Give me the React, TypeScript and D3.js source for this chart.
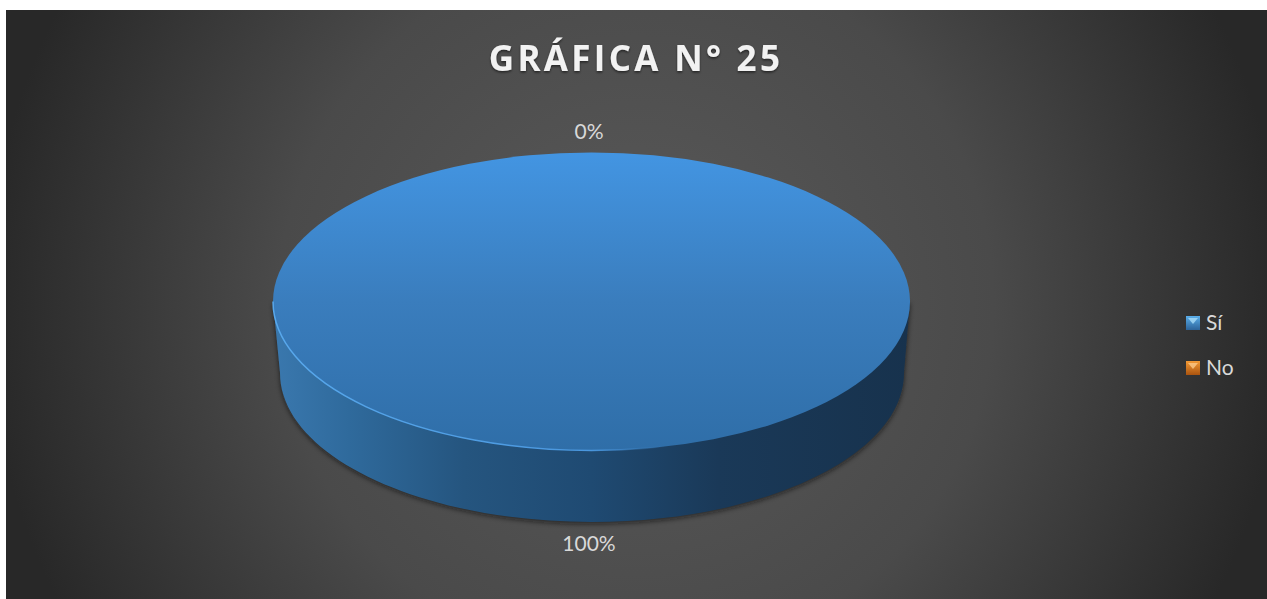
import React from "react";
import * as d3 from "d3";

const chartTitle = "GRÁFICA N° 25";
const categories = ["Sí", "No"];
const seriesValues = [100, 0];
const percentLabels = ["100%", "0%"];

const W = 1267, H = 599;
const cx = 591.5, cy = 301.5, rx = 318.5, ry = 149;
const bx = 592, by = 373, brx = 312, bry = 149;
const k = 0.5523;

export default function App() {
  const pie = d3.pie<number>().sort(null)(seriesValues);
  const arc = d3.arc<d3.PieArcDatum<number>>().innerRadius(0).outerRadius(rx);
  const topPath = arc(pie[0]) as string;
  const sidePath = d3.path();
  sidePath.moveTo(cx - rx, cy);
  sidePath.lineTo(bx - brx, by);
  sidePath.bezierCurveTo(bx - brx, by + bry * k, bx - brx * k, by + bry, bx, by + bry);
  sidePath.bezierCurveTo(bx + brx * k, by + bry, bx + brx, by + bry * k, bx + brx, by);
  sidePath.lineTo(cx + rx, cy);
  sidePath.closePath();

  const legendY = d3.scalePoint<string>().domain(categories).range([323, 368]);
  const legendFill = ["url(#lgBlue)", "url(#lgOrange)"];

  return (
    <svg width={W} height={H} style={{ position: "absolute", left: 0, top: 0, display: "block" }}>
      <defs>
        <radialGradient id="bg" gradientUnits="userSpaceOnUse" cx={636} cy={305} r={650}>
          <stop offset="0" stopColor="#5a5a5a" />
          <stop offset="0.55" stopColor="#4a4a4a" />
          <stop offset="1" stopColor="#282828" />
        </radialGradient>
        <linearGradient id="top" x1="0" y1="0" x2="0" y2="1">
          <stop offset="0" stopColor="#4395e2" />
          <stop offset="0.5" stopColor="#3a7dbd" />
          <stop offset="1" stopColor="#2f6ea8" />
        </linearGradient>
        <linearGradient id="rim" gradientUnits="userSpaceOnUse" x1={-319} y1={0} x2={319} y2={0}>
          <stop offset="0" stopColor="#58a8ec" />
          <stop offset="0.5" stopColor="#4a97de" />
          <stop offset="0.62" stopColor="#3a7dbd" stopOpacity="0" />
          <stop offset="1" stopColor="#3a7dbd" stopOpacity="0" />
        </linearGradient>
        <linearGradient id="side" x1="0" y1="0" x2="1" y2="0">
          <stop offset="0" stopColor="#3a78ae" />
          <stop offset="0.12" stopColor="#2f6a9c" />
          <stop offset="0.3" stopColor="#25557f" />
          <stop offset="0.5" stopColor="#1f4a72" />
          <stop offset="0.7" stopColor="#1a3958" />
          <stop offset="1" stopColor="#17324d" />
        </linearGradient>
        <linearGradient id="lgBlue" x1="0" y1="0" x2="0" y2="1">
          <stop offset="0" stopColor="#5aaeea" />
          <stop offset="1" stopColor="#2c6399" />
        </linearGradient>
        <linearGradient id="lgOrange" x1="0" y1="0" x2="0" y2="1">
          <stop offset="0" stopColor="#f39a35" />
          <stop offset="1" stopColor="#a9530f" />
        </linearGradient>
        <clipPath id="lowerHalf">
          <rect x={-330} y={0} width={660} height={340} />
        </clipPath>
        <filter id="blur" x="-10%" y="-10%" width="120%" height="120%">
          <feGaussianBlur stdDeviation="2.5" />
        </filter>
        <filter id="titleShadow" x="-10%" y="-30%" width="120%" height="160%">
          <feDropShadow dx="0" dy="1.5" stdDeviation="1.2" floodColor="#000" floodOpacity="0.55" />
        </filter>
      </defs>
      <rect x={0} y={0} width={W} height={H} fill="#ffffff" />
      <rect x={6} y={10} width={W - 6} height={H - 10} fill="url(#bg)" />

      <text x={636} y={71} textAnchor="middle" fontFamily="'Open Sans', sans-serif" fontWeight={700} fontSize={35} letterSpacing={3.3} fill="#f2f2f2" filter="url(#titleShadow)">
        {chartTitle}
      </text>

      <path d={sidePath.toString()} transform="translate(0 2)" fill="#111" opacity={0.6} filter="url(#blur)" />
      <path d={sidePath.toString()} fill="url(#side)" />
      <g transform={`translate(${cx} ${cy}) scale(1 ${ry / rx})`}>
        <path d={topPath} fill="url(#top)" />
        <path d={topPath} fill="none" stroke="url(#rim)" strokeWidth={1.5} vectorEffect="non-scaling-stroke" clipPath="url(#lowerHalf)" />
      </g>

      <text x={589} y={551} textAnchor="middle" fontFamily="Lato, sans-serif" fontSize={21} fill="#d9d9d9">{percentLabels[0]}</text>
      <text x={589} y={139} textAnchor="middle" fontFamily="Lato, sans-serif" fontSize={21} fill="#d9d9d9">{percentLabels[1]}</text>

      {categories.map((c, i) => {
        const y = legendY(c) as number;
        return (
          <g key={c}>
            <rect x={1186} y={y - 7} width={14} height={14} fill={legendFill[i]} />
            <path d={d3.line()([[1188, y - 5], [1198, y - 5], [1193, y + 1]]) as string} fill={i === 0 ? "#a8dcf8" : "#fbc98a"} opacity={0.8} />
            <text x={1206} y={y + 7} fontFamily="Lato, sans-serif" fontSize={21} fill="#d9d9d9">{c}</text>
          </g>
        );
      })}
    </svg>
  );
}
